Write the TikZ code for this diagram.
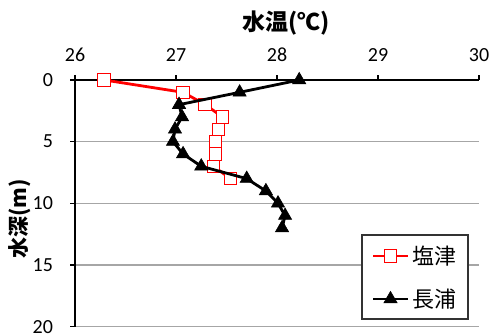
\documentclass[tikz,border=0pt]{standalone}
\usepackage{fontspec}
\usetikzlibrary{plotmarks}
\setmainfont{Carlito}
\newfontfamily\jpfont{Noto Sans CJK JP}
\tikzset{
  shiozu/.style={red, line width=1.4pt, mark=square*, mark size=3.15pt,
    mark options={draw=red, fill=white, line width=0.5pt}},
  nagaura/.style={black, line width=1.4pt, mark=triangle*, mark size=3.8pt,
    mark options={fill=black, line width=0.3pt}},
  grid line/.style={black!35, line width=0.7pt},
  tick label/.style={font=\fontsize{10}{12}\selectfont}
}
\begin{document}
\begin{tikzpicture}[x=0.5pt, y=-0.5pt]
\useasboundingbox (0,0) rectangle (491,336);
\fill[white] (0,0) rectangle (491,336);

\foreach \d in {5,10,15,20}
  \draw[grid line] (75,{80+12.33*\d}) -- (479,{80+12.33*\d});
\draw[black, line width=0.8pt] (70,80) -- (479,80);
\draw[black, line width=0.8pt] (75,75) -- (75,327);
\foreach \t [count=\i from 0] in {26,...,30}{
  \draw[black, line width=0.8pt] ({75+101*\i},80) -- ({75+101*\i},75);
  \node[tick label] at ({75+101*\i},55) {\t};
}
\foreach \d in {0,5,...,20}{
  \draw[black, line width=0.8pt] (70,{80+12.33*\d}) -- (75,{80+12.33*\d});
  \node[tick label, anchor=east] at (60,{80+12.33*\d}) {\d};
}
\node[font=\jpfont\bfseries\fontsize{11.5}{13}\selectfont] (title) at (286,23) {水温(℃)};
\node[font=\jpfont\bfseries\fontsize{10.5}{13}\selectfont, rotate=90] (ytitle) at (20,219) {水深(m)};

\begin{scope}[shift={(-2551,80)}, x=50.5pt, y=-6.165pt]
\draw[shiozu] plot coordinates {(26.29,0) (27.07,1) (27.29,2) (27.46,3) (27.42,4)
  (27.39,5) (27.39,6) (27.37,7) (27.54,8)};
\draw[nagaura] plot coordinates {(28.22,0) (27.63,1) (27.03,2) (27.06,3) (26.99,4)
  (26.97,5) (27.07,6) (27.25,7) (27.70,8) (27.89,9) (28.01,10) (28.08,11) (28.05,12)};
\end{scope}

\draw[black!80, line width=0.6pt, fill=white] (362,235) rectangle (468,319);
\draw[red, line width=1.4pt] (373,256) -- (408,256);
\path[shiozu] plot coordinates {(390.5,256)};
\draw[black, line width=1.4pt] (373,299) -- (408,299);
\path[nagaura] plot coordinates {(390.5,299)};
\node[font=\jpfont\fontsize{11}{13}\selectfont, anchor=west, inner sep=0pt] (shiozu label) at (412,256) {塩津};
\node[font=\jpfont\fontsize{11}{13}\selectfont, anchor=west, inner sep=0pt] (nagaura label) at (412,299) {長浦};
\end{tikzpicture}
\end{document}
